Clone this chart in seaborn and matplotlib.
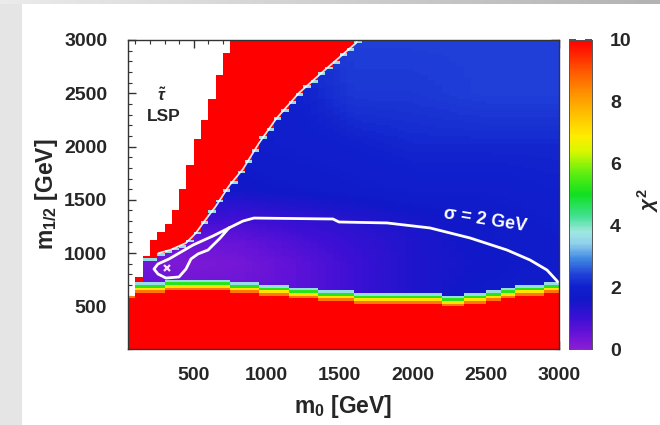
import numpy as np
import seaborn as sns
import matplotlib.pyplot as plt
from matplotlib.colors import LinearSegmentedColormap
from matplotlib.patches import Rectangle

# grid of the scan (GeV)
m0_edges = np.arange(50, 3001, 50)
m12_edges = np.arange(100, 3001, 25)

# stau LSP border (white above)
stau_m0 = [64, 118, 160, 207, 303, 379, 426, 468, 502, 550, 598, 632, 673, 721, 762]
stau_m12 = [570, 757, 907, 1095, 1226, 1414, 1602, 1789, 1977, 2165, 2315, 2474, 2662, 2850, 3040]

# upper edge of the allowed (blue) band, red above
upper_m0 = [75, 135, 160, 215, 260, 340, 447, 515, 584, 652, 741, 837, 947, 1063, 1220, 1405, 1611, 1700]
upper_m12 = [500, 560, 950, 950, 1000, 1030, 1095, 1189, 1320, 1442, 1630, 1789, 2033, 2259, 2503, 2728, 2972, 3200]

# top of the red region at low m1/2
lower_m0 = [50, 112, 200, 300, 450, 630, 900, 1180, 1430, 1700, 2000, 2300, 2450, 2576, 2713, 2891, 3000]
lower_m12 = [560, 610, 630, 640, 660, 650, 620, 580, 555, 530, 520, 510, 520, 555, 590, 610, 630]

# chi2 inside the allowed region, coarse read-off
chi_m0 = [100, 400, 800, 1200, 1600, 2000, 2500, 3000]
chi_m12 = [700, 900, 1100, 1300, 1600, 2000, 2500, 3000]
chi_tab = [
    [0.6, 0.4, 0.4, 0.6, 1.0, 1.4, 1.7, 1.8],
    [0.4, 0.2, 0.3, 0.6, 1.0, 1.4, 1.6, 1.8],
    [0.6, 0.4, 0.5, 0.8, 1.1, 1.4, 1.7, 1.8],
    [1.2, 1.0, 0.9, 1.1, 1.3, 1.5, 1.7, 1.9],
    [1.7, 1.6, 1.6, 1.7, 1.8, 1.9, 1.9, 2.0],
    [1.8, 1.8, 1.8, 1.9, 2.0, 2.1, 2.1, 2.1],
    [1.9, 1.9, 1.9, 2.0, 2.3, 2.3, 2.4, 2.4],
    [2.0, 2.0, 2.0, 2.2, 2.4, 2.4, 2.4, 2.4],
]

# sigma = 2 GeV contour
sig_m0 = [741, 680, 598, 529, 481, 447, 399, 310, 255, 228, 255, 331, 495, 632, 741, 837, 912,
          1453, 1494, 1823, 2117, 2391, 2644, 2802, 2918, 2993]
sig_m12 = [1236, 1140, 1029, 992, 945, 851, 776, 766, 804, 851, 898, 945, 1076, 1161, 1236, 1301, 1329,
           1320, 1292, 1283, 1236, 1142, 1029, 935, 841, 729]

best_fit = (317, 860)

# colour steps across the transition bands (from red side)
lower_band = [8.6, 7.0, 5.2, 3.6]
upper_band = [3.6]

cbar_ticks = [0, 2, 4, 6, 8, 10]
x_ticks = [500, 1000, 1500, 2000, 2500, 3000]
y_ticks = [500, 1000, 1500, 2000, 2500, 3000]

# --- build chi2 map -------------------------------------------------------
dy = m12_edges[1] - m12_edges[0]
dx = m0_edges[1] - m0_edges[0]
xc = (m0_edges[:-1] + m0_edges[1:]) / 2
yc = (m12_edges[:-1] + m12_edges[1:]) / 2
tmp = np.array([np.interp(xc, chi_m0, row) for row in chi_tab])
chi = np.array([np.interp(yc, chi_m12, tmp[:, j]) for j in range(len(xc))]).T

RED = 12.0
for j, x in enumerate(xc):
    up = np.interp(x, upper_m0, upper_m12)
    lo = np.interp(x, lower_m0, lower_m12)
    st = np.interp(x, stau_m0, stau_m12)
    col = chi[:, j]
    for k, v in enumerate(upper_band):
        col[(yc >= up - (k + 1) * dy) & (yc < up - k * dy)] = v
    col[yc >= up] = RED
    for k, v in enumerate(lower_band):
        col[(yc >= lo + k * dy) & (yc < lo + (k + 1) * dy)] = v
    col[yc < lo] = RED
    col[yc > st] = np.nan

cmap = LinearSegmentedColormap.from_list("chi2", [
    (0.00, "#8a1ed2"), (0.05, "#6512d8"), (0.10, "#3a10d4"), (0.16, "#1018c8"),
    (0.20, "#1020cc"), (0.24, "#2040d8"), (0.29, "#3f86e2"), (0.34, "#8fd0ec"),
    (0.38, "#9fe8e0"), (0.43, "#40e090"), (0.50, "#10e020"), (0.57, "#60ee10"),
    (0.64, "#d8f800"), (0.69, "#ffec00"), (0.76, "#ffc000"), (0.83, "#ff9000"),
    (0.90, "#ff5800"), (0.96, "#ff2000"), (1.00, "#ff0000")])

# --- figure ---------------------------------------------------------------
sns.set_style("white")
plt.rcParams['font.family'] = ['Liberation Sans', 'DejaVu Sans']
plt.rcParams['font.weight'] = 'bold'
plt.rcParams['mathtext.fontset'] = 'custom'
plt.rcParams['mathtext.rm'] = 'Liberation Sans:bold'
plt.rcParams['mathtext.bf'] = 'Liberation Sans:bold'
plt.rcParams['mathtext.it'] = 'Liberation Sans:italic'
plt.rcParams['mathtext.sf'] = 'Liberation Sans:bold'

W, H = 660, 425
fig = plt.figure(figsize=(6.6, 4.25), dpi=100)
fig.patch.set_facecolor('#e5e5e5')
fig.add_artist(Rectangle((22 / W, 0), 1, 1 - 4 / H, transform=fig.transFigure,
                         facecolor='white', edgecolor='none', zorder=0))
gax = fig.add_axes([0, 1 - 4 / H, 1, 4 / H])
gax.imshow(np.linspace(0.92, 0.70, 256)[None, :], cmap='gray', vmin=0, vmax=1, aspect='auto')
gax.axis('off')

ax = fig.add_axes([128 / W, 1 - 349 / H, 431 / W, 309 / H])
cax = fig.add_axes([569 / W, 1 - 349 / H, 23 / W, 309 / H])

sns.heatmap(chi, ax=ax, cmap=cmap, vmin=0, vmax=10, cbar_ax=cax,
            xticklabels=False, yticklabels=False, rasterized=True)
ax.invert_yaxis()
ax.set_facecolor('white')

def px(v):
    return (np.asarray(v, dtype=float) - m0_edges[0]) / dx

def py(v):
    return (np.asarray(v, dtype=float) - m12_edges[0]) / dy

# white border along upper edge of allowed band
ax.plot(px(upper_m0[4:]), py(upper_m12[4:]), color='white', lw=1.3, alpha=0.9)
ax.plot(px(sig_m0), py(sig_m12), color='white', lw=2.0)
ax.plot(px(best_fit[0]), py(best_fit[1]), marker='x', color='#ffe0ff', ms=5, mew=1.6)

ax.set_xticks(px(x_ticks))
ax.set_xticklabels([str(v) for v in x_ticks])
ax.set_yticks(py(y_ticks))
ax.set_yticklabels([str(v) for v in y_ticks])
ax.set_xticks(px(np.arange(100, 3001, 100)), minor=True)
ax.set_yticks(py(np.arange(100, 3001, 100)), minor=True)
ax.tick_params(which='both', direction='in', top=True, right=True, bottom=True, left=True,
               color='#333333', labelsize=14)
ax.tick_params(axis='x', which='major', pad=13)
ax.tick_params(axis='y', which='major', pad=15)
ax.tick_params(which='major', length=6, width=1)
ax.tick_params(which='minor', length=3, width=0.8)
for sp in ax.spines.values():
    sp.set_visible(True)
    sp.set_color('#333333')
    sp.set_linewidth(1)

ax.text(0.079, 0.82, r'$\tilde{\tau}$', transform=ax.transAxes, ha='center', va='center', fontsize=12)
ax.text(0.084, 0.754, 'LSP', transform=ax.transAxes, ha='center', va='center',
        fontsize=12.5, fontweight='bold')
ax.text(0.828, 0.416, 'σ = 2 GeV', transform=ax.transAxes, ha='center', va='center',
        fontsize=13, color='white', rotation=-9, fontweight='bold')

fig.text(343 / W, 1 - 407 / H, r'm$_{0}$ [GeV]', ha='center', va='center', fontsize=16.5)
fig.text(47 / W, 1 - 194 / H, r'm$_{1/2}$ [GeV]', ha='center', va='center', fontsize=16.5, rotation=90)

cax.set_yticks(cbar_ticks)
cax.set_yticklabels([str(v) for v in cbar_ticks])
cax.tick_params(axis='y', which='major', direction='in', left=True, right=True, length=5,
                width=1.2, color='#333333', labelsize=14, pad=13)
cax.minorticks_off()
for sp in cax.spines.values():
    sp.set_visible(True)
    sp.set_color('#555555')
    sp.set_linewidth(0.6)
fig.text(648 / W, 1 - 200 / H, r'$\chi^2$', ha='center', va='center', fontsize=15, rotation=90)

fig.savefig('out.png', dpi=100, facecolor=fig.get_facecolor())
